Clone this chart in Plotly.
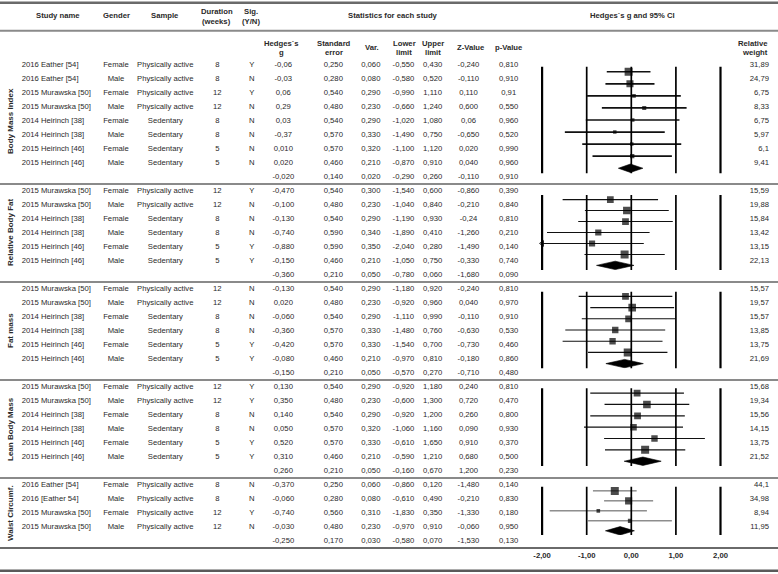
import math
import plotly.graph_objects as go

# ---------------- data ----------------
sections = ["Body Mass Index", "Relative Body Fat", "Fat mass", "Lean Body Mass", "Waist Circumf."]
studies_per_section = [8, 6, 6, 6, 4]

study_names = [
    "2016 Eather [54]", "2016 Eather [54]", "2015 Murawska [50]", "2015 Murawska [50]",
    "2014 Heirinch [38]", "2014 Heirinch [38]", "2015 Heirinch [46]", "2015 Heirinch [46]",
    "2015 Murawska [50]", "2015 Murawska [50]", "2014 Heirinch [38]", "2014 Heirinch [38]",
    "2015 Heirinch [46]", "2015 Heirinch [46]",
    "2015 Murawska [50]", "2015 Murawska [50]", "2014 Heirinch [38]", "2014 Heirinch [38]",
    "2015 Heirinch [46]", "2015 Heirinch [46]",
    "2015 Murawska [50]", "2015 Murawska [50]", "2014 Heirinch [38]", "2014 Heirinch [38]",
    "2015 Heirinch [46]", "2015 Heirinch [46]",
    "2016 Eather [54]", "2016 [Eather 54]", "2015 Murawska [50]", "2015 Murawska [50]",
]
genders = (["Female", "Male"] * 4) + (["Female", "Male"] * 3) * 3 + (["Female", "Male"] * 2)
samples = (["Physically active"] * 4 + ["Sedentary"] * 4
           + ["Physically active"] * 2 + ["Sedentary"] * 4
           + ["Physically active"] * 2 + ["Sedentary"] * 4
           + ["Physically active"] * 2 + ["Sedentary"] * 4
           + ["Physically active"] * 4)
durations = (["8", "8", "12", "12", "8", "8", "5", "5"]
             + ["12", "12", "8", "8", "5", "5"] * 3
             + ["8", "8", "12", "12"])
sig = (["Y", "N", "Y", "N", "N", "N", "N", "N"]
       + ["Y", "N", "N", "N", "Y", "Y"]
       + ["N", "N", "N", "N", "Y", "Y"]
       + ["Y", "Y", "N", "N", "Y", "Y"]
       + ["N", "N", "Y", "N"])

g_txt = ["-0,06", "-0,03", "0,06", "0,29", "0,03", "-0,37", "0,010", "0,020",
         "-0,470", "-0,100", "-0,130", "-0,740", "-0,880", "-0,150",
         "-0,130", "0,020", "-0,060", "-0,360", "-0,420", "-0,080",
         "0,130", "0,350", "0,140", "0,050", "0,520", "0,310",
         "-0,370", "-0,060", "-0,740", "-0,030"]
se_txt = ["0,250", "0,280", "0,540", "0,480", "0,540", "0,570", "0,570", "0,460",
          "0,540", "0,480", "0,540", "0,590", "0,590", "0,460",
          "0,540", "0,480", "0,540", "0,570", "0,570", "0,460",
          "0,540", "0,480", "0,540", "0,570", "0,570", "0,460",
          "0,250", "0,280", "0,560", "0,480"]
var_txt = ["0,060", "0,080", "0,290", "0,230", "0,290", "0,330", "0,320", "0,210",
           "0,300", "0,230", "0,290", "0,340", "0,350", "0,210",
           "0,290", "0,230", "0,290", "0,330", "0,330", "0,210",
           "0,290", "0,230", "0,290", "0,320", "0,330", "0,210",
           "0,060", "0,080", "0,310", "0,230"]
lower_txt = ["-0,550", "-0,580", "-0,990", "-0,660", "-1,020", "-1,490", "-1,100", "-0,870",
             "-1,540", "-1,040", "-1,190", "-1,890", "-2,040", "-1,050",
             "-1,180", "-0,920", "-1,110", "-1,480", "-1,540", "-0,970",
             "-0,920", "-0,600", "-0,920", "-1,060", "-0,610", "-0,590",
             "-0,860", "-0,610", "-1,830", "-0,970"]
upper_txt = ["0,430", "0,520", "1,110", "1,240", "1,080", "0,750", "1,120", "0,910",
             "0,600", "0,840", "0,930", "0,410", "0,280", "0,750",
             "0,920", "0,960", "0,990", "0,760", "0,700", "0,810",
             "1,180", "1,300", "1,200", "1,160", "1,650", "1,210",
             "0,120", "0,490", "0,350", "0,910"]
z_txt = ["-0,240", "-0,110", "0,110", "0,600", "0,06", "-0,650", "0,020", "0,040",
         "-0,860", "-0,210", "-0,24", "-1,260", "-1,490", "-0,330",
         "-0,240", "0,040", "-0,110", "-0,630", "-0,730", "-0,180",
         "0,240", "0,720", "0,260", "0,090", "0,910", "0,680",
         "-1,480", "-0,210", "-1,330", "-0,060"]
p_txt = ["0,810", "0,910", "0,91", "0,550", "0,960", "0,520", "0,990", "0,960",
         "0,390", "0,840", "0,810", "0,210", "0,140", "0,740",
         "0,810", "0,970", "0,910", "0,530", "0,460", "0,860",
         "0,810", "0,470", "0,800", "0,930", "0,370", "0,500",
         "0,140", "0,830", "0,180", "0,950"]
weight_txt = ["31,89", "24,79", "6,75", "8,33", "6,75", "5,97", "6,1", "9,41",
              "15,59", "19,88", "15,84", "13,42", "13,15", "22,13",
              "15,57", "19,57", "15,57", "13,85", "13,75", "21,69",
              "15,68", "19,34", "15,56", "14,15", "13,75", "21,52",
              "44,1", "34,98", "8,94", "11,95"]

sum_g = ["-0,020", "-0,360", "-0,150", "0,260", "-0,250"]
sum_se = ["0,140", "0,210", "0,210", "0,210", "0,170"]
sum_var = ["0,020", "0,050", "0,050", "0,050", "0,030"]
sum_lower = ["-0,290", "-0,780", "-0,570", "-0,160", "-0,580"]
sum_upper = ["0,260", "0,060", "0,270", "0,670", "0,070"]
sum_z = ["-0,110", "-1,680", "-0,710", "1,200", "-1,530"]
sum_p = ["0,910", "0,090", "0,480", "0,230", "0,130"]

axis_ticks = [-2, -1, 0, 1, 2]
axis_tick_labels = ["-2,00", "-1,00", "0,00", "1,00", "2,00"]


def num(s):
    return float(s.replace(",", "."))


# ---------------- layout constants ----------------
W, H = 778, 574
FONT = "Liberation Sans, Arial, sans-serif"
FS = 7.7
TXT = "#2a2a2a"
ROW0, ROW_H = 65.0, 14.0          # table rows (pixel axis)
COLS = {"study": 21.7, "gender": 116, "sample": 165.3, "dur": 217.3, "sig": 251.7,
        "g": 283.3, "se": 333.3, "var": 370.8, "lo": 403.5, "up": 432.6,
        "z": 468.5, "p": 508.7, "w": 769}
PANEL_PX = [(66.7, 173.3), (195, 270), (291.7, 368.3), (388.3, 466), (486.7, 535)]
PAD = 0.42
CI_W = [1.7, 1.1, 1.1, 1.2, 1.0]
CI_C = ["#111111", "#111111", "#111111", "#111111", "#555555"]
BOX_MAX = 8.0
DIAM_HALF_PX = 4.2
FX_RANGE = [-2.5, 2.5]
FX_DOMAIN = [519.8 / W, 742.8 / W]

fig = go.Figure()

def ty(i):
    return ROW0 + ROW_H * i

# ---------- table text ----------
study_rows, summary_rows, sec_start = [], [], []
r = 0
for k, n in enumerate(studies_per_section):
    sec_start.append(r)
    study_rows += list(range(r, r + n))
    summary_rows.append(r + n)
    r += n + 1
total_rows = r

def text_trace(xpos, rows, texts, pos="middle center", bold=False):
    fig.add_trace(go.Scatter(
        x=[xpos] * len(rows), y=[ty(i) for i in rows], mode="text",
        text=[f"<b>{t}</b>" if bold else t for t in texts],
        textposition=pos, textfont=dict(family=FONT, size=FS, color=TXT),
        hoverinfo="skip", showlegend=False, xaxis="x", yaxis="y"))

text_trace(COLS["study"], study_rows, study_names, "middle right")
text_trace(COLS["gender"], study_rows, genders)
text_trace(COLS["sample"], study_rows, samples)
text_trace(COLS["dur"], study_rows, durations)
text_trace(COLS["sig"], study_rows, sig)
for key, st, su in [("g", g_txt, sum_g), ("se", se_txt, sum_se), ("var", var_txt, sum_var),
                    ("lo", lower_txt, sum_lower), ("up", upper_txt, sum_upper),
                    ("z", z_txt, sum_z), ("p", p_txt, sum_p)]:
    text_trace(COLS[key], study_rows + summary_rows, st + su)
text_trace(COLS["w"], study_rows, weight_txt, "middle left")

# ---------- forest panels ----------
shapes = []
idx = 0
for k, n in enumerate(studies_per_section):
    yname = f"y{k + 2}"
    top, bot = PANEL_PX[k]
    nrows = n + 1
    px_per_row = (bot - top) / (nrows - 1 + 2 * PAD)
    gs = [num(v) for v in g_txt[idx:idx + n]]
    los = [num(v) for v in lower_txt[idx:idx + n]]
    ups = [num(v) for v in upper_txt[idx:idx + n]]
    ws = [num(v) for v in weight_txt[idx:idx + n]]
    idx += n
    xs, ys, ax, ay = [], [], [], []
    for j in range(n):
        lo = max(los[j], -2.0)
        hi = min(ups[j], 2.0)
        xs += [lo, hi, None]
        ys += [j, j, None]
        if los[j] < -2.0:
            ax.append(-2.0)
            ay.append(j)
    fig.add_trace(go.Scatter(x=xs, y=ys, mode="lines",
                             line=dict(color=CI_C[k], width=CI_W[k]),
                             hoverinfo="skip", showlegend=False, xaxis="x2", yaxis=yname))
    if ax:
        fig.add_trace(go.Scatter(x=ax, y=ay, mode="markers",
                                 marker=dict(symbol="triangle-left-open", size=5,
                                             color=CI_C[k], line=dict(width=1)),
                                 hoverinfo="skip", showlegend=False, xaxis="x2", yaxis=yname))
    wmax = max(ws)
    fig.add_trace(go.Scatter(x=gs, y=list(range(n)), mode="markers",
                             marker=dict(symbol="square", color="black",
                                         size=[BOX_MAX * math.sqrt(w / wmax) for w in ws],
                                         line=dict(width=0)),
                             hoverinfo="skip", showlegend=False, xaxis="x2", yaxis=yname))
    sg, sl, su = num(sum_g[k]), num(sum_lower[k]), num(sum_upper[k])
    h = DIAM_HALF_PX / px_per_row
    fig.add_trace(go.Scatter(x=[sl, sg, su, sg, sl], y=[n, n - h, n, n + h, n],
                             mode="lines", fill="toself", fillcolor="black",
                             line=dict(color="black", width=0.6),
                             hoverinfo="skip", showlegend=False, xaxis="x2", yaxis=yname))
    for v in axis_ticks:
        shapes.append(dict(type="line", xref="x2", yref=f"{yname} domain",
                           x0=v, x1=v, y0=0, y1=1,
                           line=dict(color="black", width=2.2 if abs(v) == 2 else 1.7)))
    fig.update_layout(**{f"yaxis{k + 2}": dict(
        domain=[1 - bot / H, 1 - top / H], range=[nrows - 1 + PAD, -PAD],
        visible=False, fixedrange=True, anchor="x2")})

# bottom axis labels
fig.add_trace(go.Scatter(x=axis_ticks, y=[556] * len(axis_ticks), mode="text",
                         text=[f"<b>{t}</b>" for t in axis_tick_labels],
                         textfont=dict(family=FONT, size=FS, color=TXT),
                         hoverinfo="skip", showlegend=False, xaxis="x2", yaxis="y"))

# ---------- horizontal rules ----------
def hline(y, w, c):
    shapes.append(dict(type="line", xref="paper", yref="y", x0=0, x1=1, y0=y, y1=y,
                       line=dict(color=c, width=w)))

hline(2.7, 2.6, "#6a6a6a")
hline(30.7, 2.0, "#8a8a8a")
for s in sec_start[1:]:
    hline(ty(s - 0.5), 2.0, "#8a8a8a")
hline(ty(total_rows - 0.5), 2.0, "#6a6a6a")
hline(570.7, 2.6, "#5a5a5a")

# ---------- header & section labels ----------
ann = []
def hdr(text, x, y, anchor="center"):
    ann.append(dict(text=f"<b>{text}</b>", x=x, y=y, xref="x", yref="y", showarrow=False,
                    xanchor=anchor, yanchor="middle",
                    font=dict(family=FONT, size=FS, color=TXT)))

hdr("Study name", 58, 15)
hdr("Gender", COLS["gender"], 15)
hdr("Sample", COLS["sample"], 15)
hdr("Duration", 216.7, 11.7)
hdr("(weeks)", 216.7, 21.7)
hdr("Sig.", 250.7, 11.7)
hdr("(Y/N)", 250.7, 21.7)
hdr("Statistics for each study", 393, 15)
hdr("Hedges`s g and 95% CI", 632, 15)
hdr("Hedges`s", 281.7, 43.5)
hdr("g", 281.7, 52)
hdr("Standard", 334.3, 43.5)
hdr("error", 334.3, 52)
hdr("Var.", 372.3, 47.5)
hdr("Lower", 404, 43.5)
hdr("limit", 404, 52)
hdr("Upper", 432.6, 43.5)
hdr("limit", 432.6, 52)
hdr("Z-Value", 471, 47.5)
hdr("p-Value", 509, 47.5)
hdr("Relative", 770, 43.5, "right")
hdr("weight", 770, 52, "right")

for k, name in enumerate(sections):
    c = (ty(sec_start[k]) + ty(sec_start[k] + studies_per_section[k])) / 2
    ann.append(dict(text=f"<b>{name}</b>", x=10, y=c, xref="x", yref="y", showarrow=False,
                    textangle=-90, xanchor="center", yanchor="middle",
                    font=dict(family=FONT, size=FS + 0.3, color=TXT)))

fig.update_layout(
    width=W, height=H, autosize=False,
    margin=dict(l=0, r=0, t=0, b=0, pad=0),
    paper_bgcolor="white", plot_bgcolor="white",
    xaxis=dict(domain=[0, 1], range=[0, W], visible=False, fixedrange=True, anchor="y"),
    yaxis=dict(domain=[0, 1], range=[H, 0], visible=False, fixedrange=True, anchor="x"),
    xaxis2=dict(domain=FX_DOMAIN, range=FX_RANGE, visible=False, fixedrange=True, anchor="y2"),
    shapes=shapes, annotations=ann, showlegend=False,
)

fig.write_html("out.html", include_plotlyjs=True, config={"displayModeBar": False},
               post_script="document.body.style.margin='0';document.body.style.padding='0';")
